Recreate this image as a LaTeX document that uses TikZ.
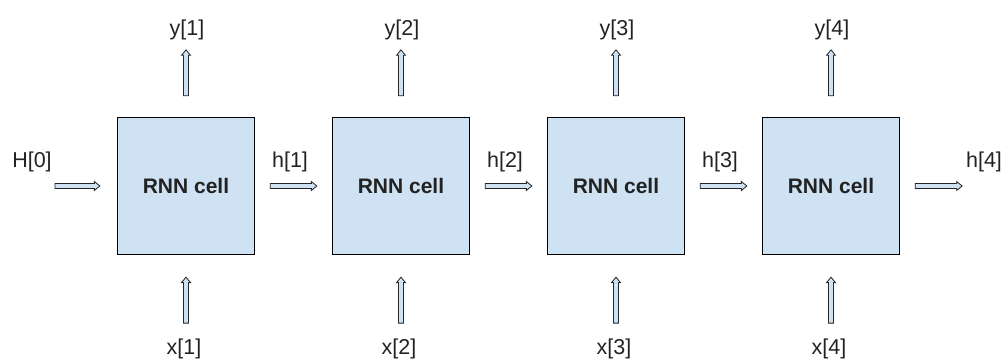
\documentclass[tikz,border=0pt]{standalone}
\usepackage{fontspec}
\setmainfont{Liberation Sans}
\usetikzlibrary{calc}
\definecolor{cellblue}{HTML}{CFE2F3}
\definecolor{txt}{HTML}{222222}
\tikzset{
  cell/.style={draw=black, line width=1.3pt, fill=cellblue, minimum width=137pt, minimum height=137pt, inner sep=0pt, font=\fontsize{21}{24}\selectfont\bfseries, text=txt},
  lbl/.style={inner sep=0pt, font=\fontsize{21.5}{24}\selectfont, text=txt},
  harrow/.style={draw=black!85, line width=0.8pt, fill=cellblue, line join=miter,
    to path={let \p1=(\tikztostart), \p2=(\tikztotarget) in
      (\x1,\y1-2.5pt) -- (\x2-5.5pt,\y1-2.5pt) -- (\x2-5.5pt,\y1-4.5pt) -- (\x2,\y1) -- (\x2-5.5pt,\y1+4.5pt) -- (\x2-5.5pt,\y1+2.5pt) -- (\x1,\y1+2.5pt) -- cycle}},
  varrow/.style={draw=black!85, line width=0.8pt, fill=cellblue, line join=miter,
    to path={let \p1=(\tikztostart), \p2=(\tikztotarget) in
      (\x1-2.5pt,\y1) -- (\x1-2.5pt,\y2-5.5pt) -- (\x1-4.5pt,\y2-5.5pt) -- (\x1,\y2) -- (\x1+4.5pt,\y2-5.5pt) -- (\x1+2.5pt,\y2-5.5pt) -- (\x1+2.5pt,\y1) -- cycle}}
}
\begin{document}
\begin{tikzpicture}[x=1pt,y=1pt]
\useasboundingbox (0,0) rectangle (1006,363);
% cells
\node[cell] (c1) at (186,177) {RNN cell};
\node[cell] (c2) at (401,177) {RNN cell};
\node[cell] (c3) at (616,177) {RNN cell};
\node[cell] (c4) at (831,177) {RNN cell};
% horizontal labels
\node[lbl] (H0) at (32,201) {H[0]};
\node[lbl] (h1) at (290,201) {h[1]};
\node[lbl] (h2) at (505,201) {h[2]};
\node[lbl] (h3) at (720,201) {h[3]};
\node[lbl] (h4) at (984,201) {h[4]};
% horizontal arrows
\coordinate (in0) at (55,177);
\draw[harrow] (in0) to ($(c1.west)+(-17,0)$);
\draw[harrow] ($(c1.east)+(15,0)$) to ($(c2.west)+(-15,0)$);
\draw[harrow] ($(c2.east)+(15,0)$) to ($(c3.west)+(-15,0)$);
\draw[harrow] ($(c3.east)+(15,0)$) to ($(c4.west)+(-15,0)$);
\draw[harrow] ($(c4.east)+(15,0)$) to ($(c4.east)+(62,0)$);
% outputs and inputs
\foreach \i in {1,2,3,4}{
  \node[lbl] (y\i) at ($(c\i.north)+(1,87)$) {y[\i]};
  \node[lbl] (x\i) at ($(c\i.south)+(-2,-94)$) {x[\i]};
  \draw[varrow] ($(c\i.north)+(0,21)$) to ($(c\i.north)+(0,67)$);
  \draw[varrow] ($(c\i.south)+(0,-68)$) to ($(c\i.south)+(0,-22)$);
}
\end{tikzpicture}
\end{document}
